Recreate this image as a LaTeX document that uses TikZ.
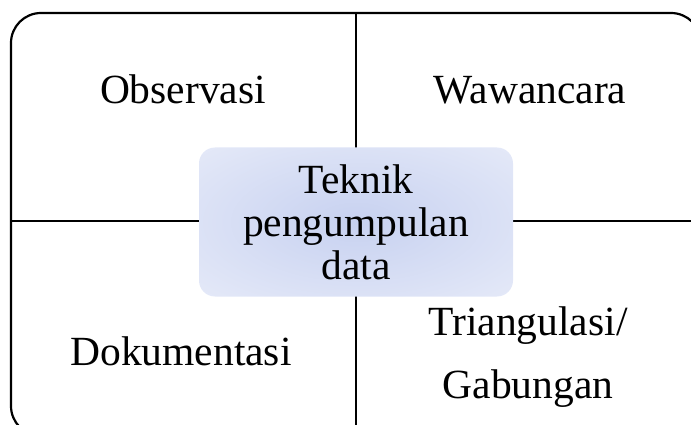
\documentclass[tikz,border=0pt]{standalone}
\usepackage{fontspec}
\setmainfont{Liberation Serif}
\definecolor{boxin}{RGB}{199,209,240}
\definecolor{boxout}{RGB}{232,236,249}
\pgfdeclareradialshading{softglow}{\pgfpoint{0bp}{0bp}}{color(0bp)=(boxin); color(40bp)=(boxout); color(50bp)=(boxout)}
\begin{document}
\begin{tikzpicture}[x=1pt,y=-1pt,
  frame/.style={line width=2.2pt,rounded corners=30pt},
  divider/.style={line width=2pt},
  lbl/.style={font=\fontsize{41.5}{43}\selectfont,anchor=base,inner sep=0pt},
  centrebox/.style={rectangle,rounded corners=16pt,shading=softglow,
     minimum width=314pt,minimum height=149pt,inner sep=0pt,align=center,
     font=\fontsize{41.5}{43}\selectfont}]
\useasboundingbox (0,0) rectangle (691,425);
\begin{scope}
\clip (0,0) rectangle (691,425);
\draw[frame] (11,13) rectangle (701,436);
\coordinate (vt) at (356,13);
\coordinate (vb) at (356,436);
\coordinate (hl) at (11,221);
\coordinate (hr) at (701,221);
\draw[divider] (vt) -- (vb);
\draw[divider] (hl) -- (hr);
\end{scope}
\node[centrebox] (teknik) at (356,222) {Teknik\\pengumpulan\\data};
\node[lbl] (obs) at (183,104) {Observasi};
\node[lbl] (waw) at (530,104) {Wawancara};
\node[lbl] (dok) at (181,365) {Dokumentasi};
\node[lbl] (tri) at (528,335) {Triangulasi/};
\node[lbl] (gab) at (528,398) {Gabungan};
\end{tikzpicture}
\end{document}
